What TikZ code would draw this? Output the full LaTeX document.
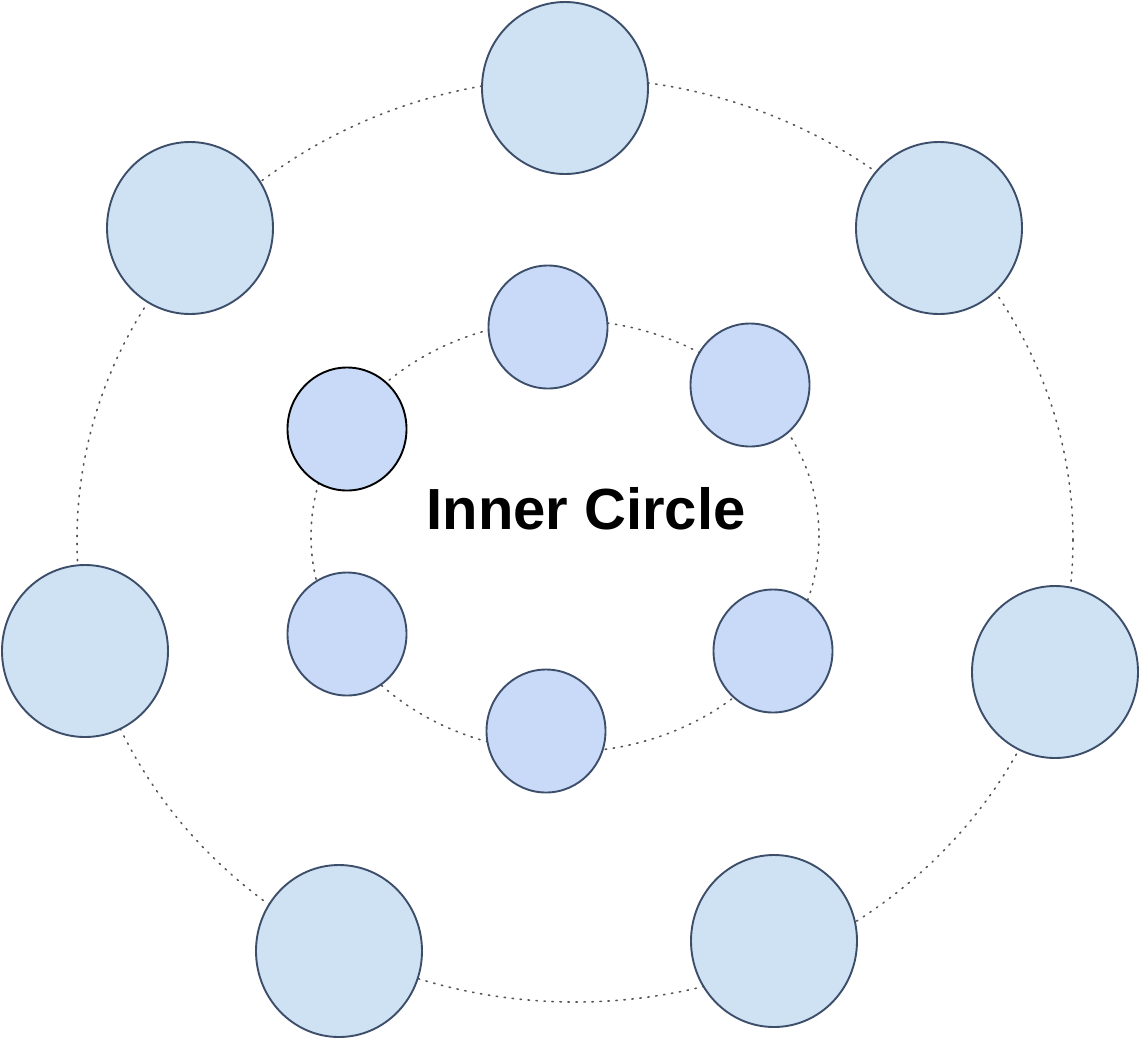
\documentclass[tikz,border=0pt]{standalone}
\usepackage{fontspec}
\setmainfont{Liberation Sans}
\definecolor{outerfill}{HTML}{CFE2F3}
\definecolor{innerfill}{HTML}{C9DAF8}
\definecolor{edge}{HTML}{3C4E6A}
\definecolor{dotc}{HTML}{555555}
\begin{document}
\begin{tikzpicture}[x=1pt,y=-1pt,
  ring/.style={draw=dotc,line width=1.6pt,dash pattern=on 1.4pt off 6.6pt,line cap=round},
  bignode/.style={draw=edge,fill=outerfill,line width=1.9pt},
  smallnode/.style={draw=edge,fill=innerfill,line width=1.9pt}]
\useasboundingbox (0,0) rectangle (1140,1037);
\draw[ring] (575,540) ellipse [x radius=498,y radius=462];
\draw[ring] (565,536) ellipse [x radius=254,y radius=216];
% outer nodes
\draw[bignode] (565,88) ellipse [x radius=83,y radius=86];
\draw[bignode] (190,228) ellipse [x radius=83,y radius=86];
\draw[bignode] (939,228) ellipse [x radius=83,y radius=86];
\draw[bignode] (85,651) ellipse [x radius=83,y radius=86];
\draw[bignode] (1055,672) ellipse [x radius=83,y radius=86];
\draw[bignode] (339,951) ellipse [x radius=83,y radius=86];
\draw[bignode] (774,941) ellipse [x radius=83,y radius=86];
% inner nodes
\draw[smallnode] (548,327) ellipse [x radius=59.5,y radius=61.5];
\draw[smallnode] (750,385) ellipse [x radius=59.5,y radius=61.5];
\draw[smallnode,draw=black] (347,429) ellipse [x radius=59.5,y radius=61.5];
\draw[smallnode] (347,634) ellipse [x radius=59.5,y radius=61.5];
\draw[smallnode] (546,731) ellipse [x radius=59.5,y radius=61.5];
\draw[smallnode] (773,651) ellipse [x radius=59.5,y radius=61.5];
\node[font=\fontsize{58}{64}\selectfont\bfseries,inner sep=0pt] (title) at (586,509) {Inner Circle};
\end{tikzpicture}
\end{document}
